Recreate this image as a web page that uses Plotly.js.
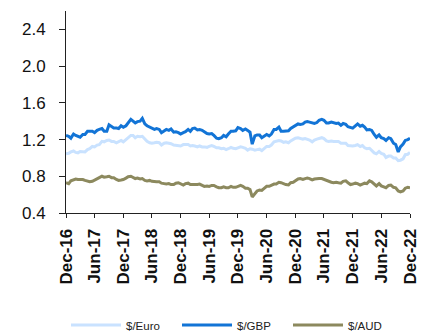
<!DOCTYPE html>
<html>
<head>
<meta charset="utf-8">
<script src="https://cdn.plot.ly/plotly-3.0.1.min.js"></script>
<style>html,body{margin:0;padding:0;background:#fff;}#chart{width:435px;height:334px;}</style>
</head>
<body>
<div id="chart"></div>
<script>
// Semi-monthly observations (1st and 15th of each month), Dec-16 .. Dec-22
var startYear = 2016, startMonth = 12; // first point: 2016-12-15

var euro = [
  1.045,
  1.05,1.065,1.075,1.06,1.055,1.07,1.065,1.065,1.09,1.10,1.125,1.12,1.14,1.145,1.18,1.175,1.19,1.195,1.18,1.18,1.165,1.18,1.19,1.175,
  1.20,1.225,1.245,1.245,1.22,1.235,1.23,1.235,1.205,1.18,1.165,1.16,1.165,1.17,1.165,1.14,1.16,1.165,1.16,1.155,1.14,1.135,1.135,1.13,
  1.145,1.145,1.145,1.13,1.135,1.13,1.12,1.13,1.12,1.12,1.115,1.125,1.135,1.125,1.11,1.11,1.10,1.105,1.09,1.10,1.115,1.105,1.10,1.11,
  1.12,1.115,1.105,1.085,1.10,1.095,1.085,1.09,1.095,1.08,1.11,1.125,1.125,1.14,1.175,1.18,1.19,1.185,1.17,1.175,1.165,1.185,1.20,1.215,
  1.22,1.215,1.205,1.21,1.205,1.195,1.175,1.195,1.205,1.21,1.22,1.21,1.185,1.18,1.185,1.18,1.18,1.18,1.16,1.16,1.16,1.135,1.13,1.13,
  1.135,1.145,1.125,1.135,1.11,1.10,1.105,1.08,1.055,1.045,1.07,1.05,1.04,1.005,1.02,1.02,1.00,1.00,0.97,0.975,0.99,1.035,1.04,1.06
];
var gbp = [
  1.245,
  1.235,1.215,1.26,1.245,1.235,1.225,1.255,1.255,1.29,1.29,1.29,1.275,1.30,1.31,1.32,1.29,1.29,1.36,1.34,1.325,1.325,1.32,1.35,1.335,
  1.35,1.38,1.42,1.40,1.38,1.395,1.40,1.43,1.37,1.35,1.335,1.325,1.31,1.32,1.31,1.275,1.29,1.31,1.30,1.315,1.28,1.285,1.275,1.26,
  1.275,1.285,1.31,1.29,1.32,1.325,1.305,1.31,1.30,1.285,1.265,1.26,1.265,1.245,1.215,1.21,1.22,1.245,1.23,1.26,1.29,1.29,1.295,1.33,
  1.32,1.30,1.315,1.30,1.28,1.15,1.24,1.25,1.25,1.22,1.235,1.255,1.24,1.26,1.31,1.31,1.335,1.29,1.29,1.295,1.295,1.32,1.34,1.35,
  1.37,1.365,1.37,1.39,1.395,1.39,1.38,1.375,1.385,1.41,1.42,1.41,1.38,1.38,1.39,1.385,1.375,1.38,1.355,1.375,1.365,1.34,1.33,1.325,
  1.35,1.37,1.345,1.355,1.335,1.305,1.31,1.30,1.255,1.225,1.25,1.22,1.21,1.19,1.22,1.21,1.16,1.145,1.065,1.12,1.15,1.19,1.20,1.215
];
var aud = [
  0.73,
  0.72,0.75,0.76,0.77,0.765,0.765,0.765,0.755,0.745,0.74,0.745,0.76,0.77,0.785,0.80,0.79,0.795,0.80,0.785,0.785,0.765,0.755,0.76,0.765,
  0.78,0.795,0.80,0.79,0.775,0.78,0.77,0.775,0.755,0.75,0.755,0.745,0.74,0.74,0.74,0.725,0.72,0.715,0.72,0.71,0.71,0.725,0.73,0.715,
  0.705,0.72,0.725,0.71,0.71,0.705,0.71,0.715,0.70,0.69,0.695,0.69,0.70,0.70,0.685,0.675,0.675,0.685,0.675,0.675,0.69,0.68,0.68,0.69,
  0.70,0.69,0.67,0.67,0.655,0.575,0.615,0.64,0.65,0.645,0.67,0.69,0.69,0.70,0.715,0.715,0.735,0.73,0.715,0.71,0.705,0.73,0.735,0.755,
  0.77,0.775,0.765,0.775,0.78,0.775,0.76,0.77,0.775,0.775,0.775,0.765,0.75,0.745,0.735,0.73,0.735,0.73,0.725,0.745,0.75,0.73,0.71,0.715,
  0.725,0.72,0.705,0.715,0.725,0.72,0.75,0.74,0.71,0.695,0.72,0.695,0.685,0.675,0.70,0.705,0.68,0.675,0.64,0.63,0.64,0.67,0.68,0.675
];

var tickDates = ['2016-12-15','2017-06-15','2017-12-15','2018-06-15','2018-12-15','2019-06-15','2019-12-15',
                 '2020-06-15','2020-12-15','2021-06-15','2021-12-15','2022-06-15','2022-12-15'];
var tickLabels = ['Dec-16','Jun-17','Dec-17','Jun-18','Dec-18','Jun-19','Dec-19',
                  'Jun-20','Dec-20','Jun-21','Dec-21','Jun-22','Dec-22'];
var yTicks = [0.4, 0.8, 1.2, 1.6, 2.0, 2.4];
var yTickLabels = ['0.4','0.8','1.2','1.6','2.0','2.4'];

function pad(n){ return (n < 10 ? '0' : '') + n; }
var dates = [];
(function(){
  dates.push(startYear + '-' + pad(startMonth) + '-15');
  var y = startYear + 1, m = 1;
  while (dates.length < euro.length) {
    dates.push(y + '-' + pad(m) + '-01');
    if (dates.length < euro.length) dates.push(y + '-' + pad(m) + '-15');
    m++; if (m > 12) { m = 1; y++; }
  }
})();

var traces = [
  {x: dates, y: euro, name: '$/Euro', type: 'scatter', mode: 'lines',
   line: {color: '#c9e2ff', width: 3}},
  {x: dates, y: gbp, name: '$/GBP', type: 'scatter', mode: 'lines',
   line: {color: '#1274d6', width: 3}},
  {x: dates, y: aud, name: '$/AUD', type: 'scatter', mode: 'lines',
   line: {color: '#8c895e', width: 3}}
];

var layout = {
  width: 435, height: 334,
  margin: {l: 66, r: 25, t: 11, b: 121, autoexpand: false},
  paper_bgcolor: '#ffffff', plot_bgcolor: '#ffffff',
  font: {family: '"Liberation Sans", Arial, sans-serif', color: '#1a1a1a'},
  showlegend: true,
  legend: {
    orientation: 'h', x: 0, xanchor: 'left', y: -0.555, yanchor: 'middle',
    font: {family: '"Liberation Sans", Arial, sans-serif', size: 11.5, color: '#222'},
    itemwidth: 50, entrywidth: 46, tracegroupgap: 0, bgcolor: 'rgba(0,0,0,0)'
  },
  xaxis: {
    type: 'date', range: ['2016-12-15', '2022-12-15'],
    tickmode: 'array', tickvals: tickDates, ticktext: tickLabels,
    tickangle: -90, ticks: 'outside', ticklen: 4, tickwidth: 1, tickcolor: '#222',
    ticklabelstandoff: 4,
    tickfont: {family: '"Liberation Sans", Arial, sans-serif', size: 17, color: '#111', weight: 'bold'},
    showline: true, linecolor: '#222', linewidth: 1, showgrid: false, zeroline: false,
    automargin: false
  },
  yaxis: {
    range: [0.4, 2.6], tickmode: 'array', tickvals: yTicks, ticktext: yTickLabels,
    ticks: 'outside', ticklen: 6, tickwidth: 1, tickcolor: '#222',
    ticklabelstandoff: 10,
    tickfont: {family: '"Liberation Sans", Arial, sans-serif', size: 17, color: '#111'},
    showline: true, linecolor: '#222', linewidth: 1, showgrid: false, zeroline: false,
    automargin: false
  }
};

Plotly.newPlot('chart', traces, layout, {staticPlot: true, displayModeBar: false});
</script>
</body>
</html>
